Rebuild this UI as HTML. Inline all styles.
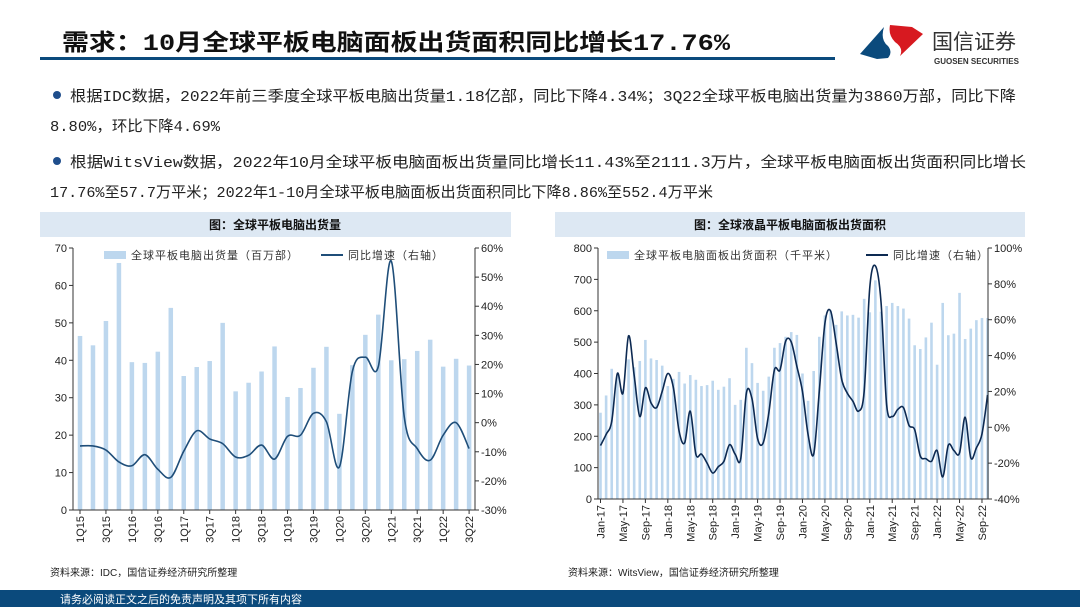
<!DOCTYPE html>
<html><head><meta charset="utf-8">
<style>
html,body{margin:0;padding:0;background:#fff;}
body{width:1080px;height:607px;overflow:hidden;position:relative;font-family:"Liberation Sans","Noto Sans CJK SC",sans-serif;}
svg text{font-family:"Liberation Sans","Noto Sans CJK SC",sans-serif;}
svg text.mono{font-family:"Liberation Mono","Noto Sans CJK SC",monospace;}
</style></head>
<body>
<svg id="page" width="1080" height="607" viewBox="0 0 1080 607" xmlns="http://www.w3.org/2000/svg">
  <text class="mono" x="62" y="50" font-size="23" font-weight="bold" fill="#111" textLength="668" lengthAdjust="spacingAndGlyphs">需求：10月全球平板电脑面板出货面积同比增长17.76%</text>
  <rect x="40" y="57" width="795" height="3" fill="#0b4a7c"/>
  <g>
    <path d="M860 54 L884 27 Q880 40 888 46 Q893 52 888 58 L877 59 Z" fill="#0b4a7c"/>
    <path d="M890 25 L912 27 L923 34 L900 56 Q904 48 895 42 Q888 35 890 25 Z" fill="#d71920"/>
    <text x="932" y="49" font-size="21" fill="#333">国信证券</text>
    <text x="934" y="64" font-size="8" font-weight="bold" fill="#333">GUOSEN SECURITIES</text>
  </g>
  <g font-size="15" fill="#222">
    <circle cx="57" cy="95" r="4" fill="#1f4e8c"/>
    <text class="mono" x="70" y="101" textLength="946" lengthAdjust="spacingAndGlyphs">根据IDC数据，2022年前三季度全球平板电脑出货量1.18亿部，同比下降4.34%；3Q22全球平板电脑出货量为3860万部，同比下降</text>
    <text class="mono" x="50" y="131" textLength="170" lengthAdjust="spacingAndGlyphs">8.80%，环比下降4.69%</text>
    <circle cx="57" cy="161" r="4" fill="#1f4e8c"/>
    <text class="mono" x="70" y="167" textLength="956" lengthAdjust="spacingAndGlyphs">根据WitsView数据，2022年10月全球平板电脑面板出货量同比增长11.43%至2111.3万片，全球平板电脑面板出货面积同比增长</text>
    <text class="mono" x="50" y="197" textLength="663" lengthAdjust="spacingAndGlyphs">17.76%至57.7万平米；2022年1-10月全球平板电脑面板出货面积同比下降8.86%至552.4万平米</text>
  </g>
  <rect x="40" y="212" width="471" height="25" fill="#dde8f3"/>
  <text x="275" y="229" font-size="12" font-weight="bold" text-anchor="middle" fill="#111">图：全球平板电脑出货量</text>
  <rect x="555" y="212" width="470" height="25" fill="#dde8f3"/>
  <text x="790" y="229" font-size="12" font-weight="bold" text-anchor="middle" fill="#111">图：全球液晶平板电脑面板出货面积</text>
  <g id="left"></g>
  <g id="right"></g>
  <text x="50" y="576" font-size="10" fill="#222">资料来源：IDC，国信证券经济研究所整理</text>
  <text x="568" y="576" font-size="10" fill="#222">资料来源：WitsView，国信证券经济研究所整理</text>
  <rect x="0" y="590" width="1080" height="17" fill="#0b4a7c"/>
  <text x="60" y="603" font-size="11" fill="#fff">请务必阅读正文之后的免责声明及其项下所有内容</text>
</svg>
<script>
const leftCategories = ["1Q15","2Q15","3Q15","4Q15","1Q16","2Q16","3Q16","4Q16","1Q17","2Q17","3Q17","4Q17","1Q18","2Q18","3Q18","4Q18","1Q19","2Q19","3Q19","4Q19","1Q20","2Q20","3Q20","4Q20","1Q21","2Q21","3Q21","4Q21","1Q22","2Q22","3Q22"];
const leftShipments = [46.5,44,50.5,66,39.5,39.3,42.3,54,35.8,38.2,39.8,50,31.7,34,37,43.7,30.2,32.6,38,43.6,25.7,38.7,46.8,52.2,40,40.3,42.5,45.5,38.3,40.4,38.6];
const leftYoY = [-8,-8,-9.4,-13.5,-14.8,-11,-16,-18.8,-9.8,-2.8,-5.6,-7.2,-11.8,-11.2,-7.7,-12.5,-4.7,-4.3,3.2,0.3,-15.2,17.6,22.5,19.3,55.5,2,-8.9,-12.9,-4.3,0,-8.9];
const leftLeftTicks = [0,10,20,30,40,50,60,70];
const leftRightTicks = ["-30%","-20%","-10%","0%","10%","20%","30%","40%","50%","60%"];

const rightCategories = [];
(function(){const m=["Jan","Feb","Mar","Apr","May","Jun","Jul","Aug","Sep","Oct","Nov","Dec"];for(let y=17;y<=22;y++)for(let k=0;k<12;k++){if(y===22&&k>9)break;rightCategories.push(m[k]+"-"+y);}})();
const rightArea = [275,330,415,395,350,445,420,440,507,448,443,425,360,383,405,368,395,380,360,363,377,348,358,385,300,316,482,433,370,345,390,482,497,517,532,523,400,313,408,517,585,600,555,598,585,587,578,638,595,697,597,615,625,615,607,575,490,478,515,562,428,625,522,527,657,510,543,570,577,577];
const rightYoY = [-10.2,-4,3.3,30,19,51,29,6,22,13.6,11,20,30,22,-2,-8.7,9,-15,-15,-20,-25.5,-22,-19,-9.7,-15,-17.5,19,16,-6.3,-8.7,8,32,32,48,47.6,34,20,-4,-15,20,58,65,47,26.6,19,14.5,9,20,78,90,70,12.7,6,10,11,1,-1.3,-16,-17.5,-19,-13,-27.7,-10,-13,-14.3,5.6,-17,-11.5,-3.7,18];
const rightLeftTicks = [0,100,200,300,400,500,600,700,800];
const rightRightTicks = ["-40%","-20%","0%","20%","40%","60%","80%","100%"];

const NS="http://www.w3.org/2000/svg";
function mk(tag,attrs,parent){const e=document.createElementNS(NS,tag);for(const k in attrs)e.setAttribute(k,attrs[k]);parent.appendChild(e);return e;}
function smooth(pts){let d="M"+pts[0][0]+","+pts[0][1];for(let i=0;i<pts.length-1;i++){const p0=pts[i-1]||pts[i],p1=pts[i],p2=pts[i+1],p3=pts[i+2]||p2;const t=6;d+=" C"+(p1[0]+(p2[0]-p0[0])/t)+","+(p1[1]+(p2[1]-p0[1])/t)+" "+(p2[0]-(p3[0]-p1[0])/t)+","+(p2[1]-(p3[1]-p1[1])/t)+" "+p2[0]+","+p2[1];}return d;}

function drawChart(g,cfg){
  const {x0,x1,y0,y1,cats,bars,line,lMax,rMin,rMax,lTicks,rTicks,barW,x,labelEvery,legend1,legend2,lineColor,legX1,legX2}=cfg;
  const yL=v=>y1-(v/lMax)*(y1-y0);
  const yR=v=>y1-((v-rMin)/(rMax-rMin))*(y1-y0);
  bars.forEach((v,i)=>{
    const r=mk("rect",{x:x(i)-barW/2,y:yL(v),width:barW,height:y1-yL(v),fill:"#bdd7ee"},g);
    
    
  });
  const p=mk("path",{d:smooth(line.map((v,i)=>[x(i),yR(v)])),fill:"none",stroke:lineColor,"stroke-width":1.6},g);
  
  
  mk("line",{x1:x0,y1:y0,x2:x0,y2:y1,stroke:"#333","stroke-width":1},g);
  mk("line",{x1:x1,y1:y0,x2:x1,y2:y1,stroke:"#333","stroke-width":1},g);
  mk("line",{x1:x0,y1:y1,x2:x1,y2:y1,stroke:"#333","stroke-width":1},g);
  lTicks.forEach(v=>{
    mk("line",{x1:x0-4,y1:yL(v),x2:x0,y2:yL(v),stroke:"#333"},g);
    const t=mk("text",{x:x0-6,y:yL(v)+4,"font-size":11,"text-anchor":"end",fill:"#222"},g);t.textContent=v;
    
    
  });
  rTicks.forEach((s,i)=>{
    const yy=y1-i*(y1-y0)/(rTicks.length-1);
    mk("line",{x1:x1,y1:yy,x2:x1+4,y2:yy,stroke:"#333"},g);
    const t=mk("text",{x:x1+6,y:yy+4,"font-size":11,fill:"#222"},g);t.textContent=s;
    
    
  });
  cats.forEach((c,i)=>{
    if(i%labelEvery!==0)return;
    mk("line",{x1:x(i),y1:y1,x2:x(i),y2:y1+4,stroke:"#333"},g);
    const t=mk("text",{x:0,y:0,"font-size":11,"text-anchor":"end",fill:"#222",transform:"translate("+(x(i)+4)+","+(y1+6)+") rotate(-90)"},g);t.textContent=c;
    
    
  });
  mk("rect",{x:legX1,y:y0+3,width:22,height:8,fill:"#bdd7ee"},g);
  const l1=mk("text",{x:legX1+27,y:y0+11,"font-size":11,fill:"#333","letter-spacing":"1"},g);l1.textContent=legend1;
  
  
  mk("line",{x1:legX2,y1:y0+7,x2:legX2+22,y2:y0+7,stroke:lineColor,"stroke-width":2},g);
  const l2=mk("text",{x:legX2+27,y:y0+11,"font-size":11,fill:"#333","letter-spacing":"1"},g);l2.textContent=legend2;
  
  
}
drawChart(document.getElementById('left'),{x0:73,x1:475,y0:248,y1:510,cats:leftCategories,bars:leftShipments,line:leftYoY,lMax:70,rMin:-30,rMax:60,lTicks:leftLeftTicks,rTicks:leftRightTicks,barW:4.5,x:i=>80+i*12.97,labelEvery:2,legend1:"全球平板电脑出货量（百万部）",legend2:"同比增速（右轴）",lineColor:"#1f4e79",legX1:104,legX2:321});
drawChart(document.getElementById('right'),{x0:598,x1:988,y0:248,y1:499,cats:rightCategories,bars:rightArea,line:rightYoY,lMax:800,rMin:-40,rMax:100,lTicks:rightLeftTicks,rTicks:rightRightTicks,barW:2.6,x:i=>600.5+i*5.61,labelEvery:4,legend1:"全球平板电脑面板出货面积（千平米）",legend2:"同比增速（右轴）",lineColor:"#0d2a52",legX1:607,legX2:866});
</script>
</body></html>
